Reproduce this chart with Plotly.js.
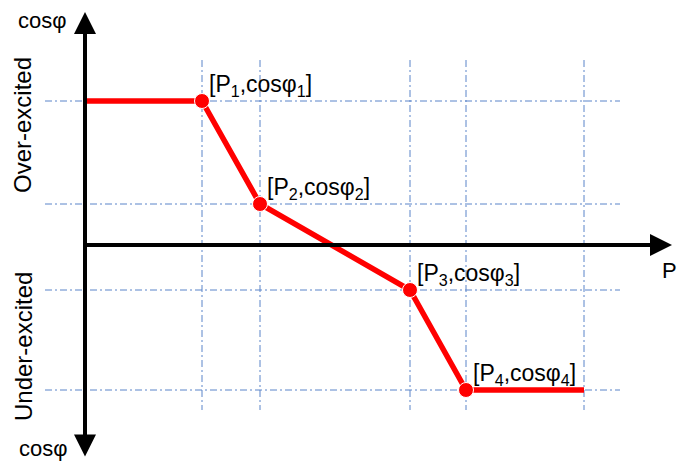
<!DOCTYPE html>
<html>
<head>
<meta charset="utf-8">
<script src="https://cdn.plot.ly/plotly-3.0.1.min.js"></script>
<style>
  body { margin: 0; background: #fff; }
  #chart { width: 678px; height: 464px; }
</style>
</head>
<body>
<div id="chart"></div>
<script>
// characteristic cosφ(P) curve
const pValues = [0, 1.17, 1.75, 3.25, 3.81, 4.99];
const cosValues = [1.44, 1.44, 0.41, -0.45, -1.45, -1.45];
const pointLabels = ['', '[P<sub>1</sub>,cosφ<sub>1</sub>]', '[P<sub>2</sub>,cosφ<sub>2</sub>]',
                     '[P<sub>3</sub>,cosφ<sub>3</sub>]', '[P<sub>4</sub>,cosφ<sub>4</sub>]', ''];

// grid lines
const gridP = [1.17, 1.75, 3.25, 3.81, 4.99];
const gridCos = [1.44, 0.41, -0.45, -1.45];

const font = 'Liberation Sans, Arial, sans-serif';
const gridColor = '#5B84C9';

const traces = [];

// horizontal grid lines
gridCos.forEach(function(c) {
    traces.push({
        x: [-0.4, 5.35], y: [c, c],
        type: 'scatter', mode: 'lines',
        line: { color: gridColor, width: 1, dash: '7px,3px,2px,3px' },
        hoverinfo: 'skip', showlegend: false
    });
});
// vertical grid lines
gridP.forEach(function(p) {
    traces.push({
        x: [p, p], y: [1.85, -1.65],
        type: 'scatter', mode: 'lines',
        line: { color: gridColor, width: 1, dash: '7px,3px,2px,3px' },
        hoverinfo: 'skip', showlegend: false
    });
});

// the curve
traces.push({
    x: pValues, y: cosValues,
    type: 'scatter', mode: 'lines+markers',
    line: { color: '#FF0000', width: 5.5 },
    marker: {
        color: '#FF0000', opacity: 1,
        size: pValues.map(function(p, i) { return pointLabels[i] ? 15 : 0; })
    },
    showlegend: false
});

const annotations = [];

// axes with arrows
annotations.push({
    x: 5.87, y: 0, ax: 0, ay: 0,
    xref: 'x', yref: 'y', axref: 'x', ayref: 'y',
    text: '', showarrow: true, arrowhead: 2, arrowsize: 1.1, arrowwidth: 4, arrowcolor: '#000'
});
annotations.push({
    x: 0, y: 2.33, ax: 0, ay: -2.13,
    xref: 'x', yref: 'y', axref: 'x', ayref: 'y',
    text: '', showarrow: true, arrowhead: 2, startarrowhead: 2, arrowside: 'end+start',
    arrowsize: 1.1, startarrowsize: 1.1, arrowwidth: 4, arrowcolor: '#000'
});

// point labels
pointLabels.forEach(function(t, i) {
    if (!t) return;
    annotations.push({
        x: pValues[i], y: cosValues[i], xref: 'x', yref: 'y',
        text: t, showarrow: false,
        xanchor: 'left', yanchor: 'bottom', xshift: 5, yshift: -1,
        font: { family: font, size: 23, color: '#000' }
    });
});

// axis labels
annotations.push({ x: -0.16, y: 2.25, xref: 'x', yref: 'y', text: 'cosφ', showarrow: false,
    xanchor: 'right', yanchor: 'middle', font: { family: font, size: 22, color: '#000' } });
annotations.push({ x: -0.15, y: -2.03, xref: 'x', yref: 'y', text: 'cosφ', showarrow: false,
    xanchor: 'right', yanchor: 'middle', font: { family: font, size: 22, color: '#000' } });
annotations.push({ x: 5.84, y: -0.25, xref: 'x', yref: 'y', text: 'P', showarrow: false,
    xanchor: 'center', yanchor: 'middle', font: { family: font, size: 22, color: '#000' } });
annotations.push({ x: -0.63, y: 1.2, xref: 'x', yref: 'y', text: 'Over-excited', showarrow: false,
    textangle: -90, xanchor: 'center', yanchor: 'middle', font: { family: font, size: 24, color: '#000' } });
annotations.push({ x: -0.62, y: -1.02, xref: 'x', yref: 'y', text: 'Under-excited', showarrow: false,
    textangle: -90, xanchor: 'center', yanchor: 'middle', font: { family: font, size: 24, color: '#000' } });

Plotly.newPlot('chart', traces, {
    width: 678,
    height: 464,
    margin: { l: 0, r: 0, t: 0, b: 0 },
    paper_bgcolor: '#fff',
    plot_bgcolor: '#fff',
    xaxis: { range: [-0.85, 5.93], visible: false, fixedrange: true },
    yaxis: { range: [-2.19, 2.45], visible: false, fixedrange: true },
    annotations: annotations,
    showlegend: false
}, { staticPlot: true });
</script>
</body>
</html>
